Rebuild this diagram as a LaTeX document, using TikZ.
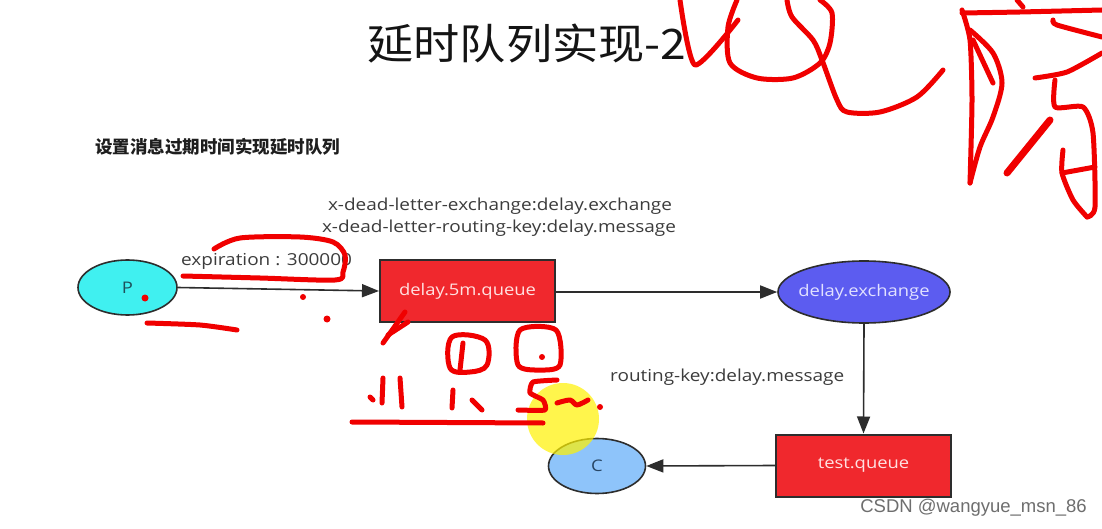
\documentclass[tikz,border=0pt]{standalone}
\usepackage{fontspec}
\setmainfont{Open Sans}[FakeStretch=1.15]
\newfontfamily\cjk{Noto Sans CJK SC}[FakeStretch=1.1]
\newfontfamily\cjksub{Noto Sans CJK SC}
\newfontfamily\wmfont{Liberation Sans}
\usetikzlibrary{shapes.geometric,arrows.meta}
\definecolor{pcyan}{RGB}{64,240,240}
\definecolor{qred}{RGB}{240,40,45}
\definecolor{exblue}{RGB}{92,92,240}
\definecolor{cblue}{RGB}{142,196,250}
\definecolor{edge}{RGB}{45,45,45}
\definecolor{inkred}{RGB}{240,0,0}
\definecolor{txt}{RGB}{60,60,60}
\tikzset{
  lbl/.style={font=\fontsize{16.5}{19}\selectfont, text=txt, inner sep=0pt},
  ellnode/.style={ellipse, draw=edge, line width=1.6pt, inner sep=0pt, font=\fontsize{16}{19}\selectfont},
  qbox/.style={rectangle, draw=edge, line width=2pt, fill=qred, inner sep=0pt, minimum width=175pt, minimum height=62pt, text={rgb,255:red,255;green,225;blue,225}, font=\fontsize{16}{19}\selectfont},
  conn/.style={draw=edge, line width=1.6pt, -{Triangle[length=17pt,width=13pt]}},
  scrib/.style={draw=inkred, line width=5pt, line cap=round, line join=round},
  scribdot/.style={fill=inkred}
}
\begin{document}
\begin{tikzpicture}[x=1pt,y=-1pt]
\useasboundingbox[fill=white] (0,0) rectangle (1102,529);
% titles
\node[inner sep=0pt, text={rgb,255:red,20;green,20;blue,20}, font=\cjk\fontsize{42}{46}\selectfont] (title) at (527,44) {延时队列实现-2};
\node[anchor=west, inner sep=0pt, text={rgb,255:red,30;green,30;blue,30}, font=\cjksub\bfseries\fontsize{17.5}{20}\selectfont] (sub) at (95,147) {设置消息过期时间实现延时队列};
% nodes
\node[ellnode, fill=pcyan, minimum width=99pt, minimum height=55pt, text={rgb,255:red,30;green,80;blue,90}] (P) at (127.5,287.5) {\makebox[0pt]{P}};
\node[qbox] (dq) at (467.5,291) {delay.5m.queue};
\node[ellnode, fill=exblue, minimum width=172pt, minimum height=62pt, text={rgb,255:red,225;green,225;blue,255}] (ex) at (864,292) {\makebox[0pt]{delay.exchange}};
\node[qbox] (tq) at (863.5,465.5) {test.queue};
\node[ellnode, fill=cblue, minimum width=97pt, minimum height=55pt, text={rgb,255:red,40;green,70;blue,100}] (C) at (597,466) {\makebox[0pt]{C}};
% labels
\node[lbl, anchor=west] (exp) at (181,261) {expiration : 300000};
\node[lbl] (dlx) at (500,206) {x-dead-letter-exchange:delay.exchange};
\node[lbl] (dlk) at (499,228) {x-dead-letter-routing-key:delay.message};
\node[lbl, anchor=west] (rk) at (610,377) {routing-key:delay.message};
% connectors
\draw[conn] (P.east) -- (dq.west);
\draw[conn] (dq.east |- ex.west) -- (ex.west);
\draw[conn] (ex.south) -- (tq.north);
\draw[conn] (tq.west) -- (C.east);
% highlight
\fill[yellow, opacity=0.7] (563,419) circle (36pt);
% watermark
\node[anchor=east, inner sep=0pt, text={rgb,255:red,110;green,110;blue,110}, font=\wmfont\fontsize{18.5}{21}\selectfont] (wm) at (1087,508) {CSDN @wangyue\_msn\_86};
% scribbles top
\draw[scrib] plot[smooth, tension=0.4] coordinates {(680,0) (695,65) (738,20)};
\draw[scrib] plot[smooth, tension=0.5] coordinates {(737,0) (728,27) (730,63) (757,78) (793,78) (820,63) (830,43) (832,13) (820,0)};
\draw[scrib] plot[smooth, tension=0.5] coordinates {(787,0) (792,17) (813,40) (822,60) (837,100) (847,112) (880,112) (917,97) (943,70)};
\draw[scrib] plot[smooth, tension=0.4] coordinates {(962,13) (1020,12) (1102,10)};
\draw[scrib] (1017,0) -- (1023,7);
\draw[scrib] plot[smooth, tension=0.4] coordinates {(962,10) (970,40) (972,100) (970,183)};
\draw[scrib] plot[smooth, tension=0.5] coordinates {(970,30) (993,53) (1002,83) (993,117) (980,147) (970,183)};
\draw[scrib] (973,40) -- (993,83);
\draw[scrib] plot[smooth, tension=0.4] coordinates {(1053,20) (1057,25) (1102,37)};
\draw[scrib] plot[smooth, tension=0.4] coordinates {(1102,53) (1067,72) (1035,78)};
\draw[scrib] plot[smooth, tension=0.4] coordinates {(1055,80) (1055,107) (1083,107) (1093,133) (1095,207) (1087,217)};
\draw[scrib, line width=7pt] (1050,120) -- (1007,173);
\draw[scrib] plot[smooth, tension=0.4] coordinates {(1063,150) (1062,173) (1073,200) (1087,217)};
\draw[scrib] (1062,173) -- (1095,167);
% scribbles around expiration
\draw[scrib] plot[smooth, tension=0.5] coordinates {(214,249) (240,238) (300,237) (333,242) (345,255) (343,272) (335,280) (260,278) (183,276)};
\fill[scribdot] (145,298) circle (3.5pt);
\fill[scribdot] (303,297) circle (3pt);
\fill[scribdot] (327,319) circle (3.5pt);
\draw[scrib] plot[smooth, tension=0.4] coordinates {(147,323) (200,325) (237,330)};
% scribbles below queue
\draw[scrib] (405,312) -- (383,343);
\draw[scrib] (388,335) -- (408,322);
\draw[scrib] plot[smooth cycle, tension=0.6] coordinates {(452,337) (485,340) (487,365) (470,372) (450,368)};
\draw[scrib] (463,343) -- (460,370);
\draw[scrib] plot[smooth cycle, tension=0.5] coordinates {(520,330) (556,330) (560,365) (540,370) (518,365)};
\fill[scribdot] (542,357) circle (3pt);
\draw[scrib] (383,378) -- (382,403);
\draw[scrib] (370,397) -- (373,400);
\draw[scrib] (400,378) -- (402,407);
\draw[scrib] (453,390) -- (452,408);
\draw[scrib] (472,400) -- (482,410);
\draw[scrib] plot[smooth, tension=0.3] coordinates {(557,380) (533,382) (530,393) (543,400) (545,410) (518,410)};
\draw[scrib] plot[smooth, tension=0.5] coordinates {(557,403) (570,400) (577,405) (588,400)};
\fill[scribdot] (600,407) circle (3pt);
\draw[scrib] (352,422) -- (543,423);
\end{tikzpicture}
\end{document}
